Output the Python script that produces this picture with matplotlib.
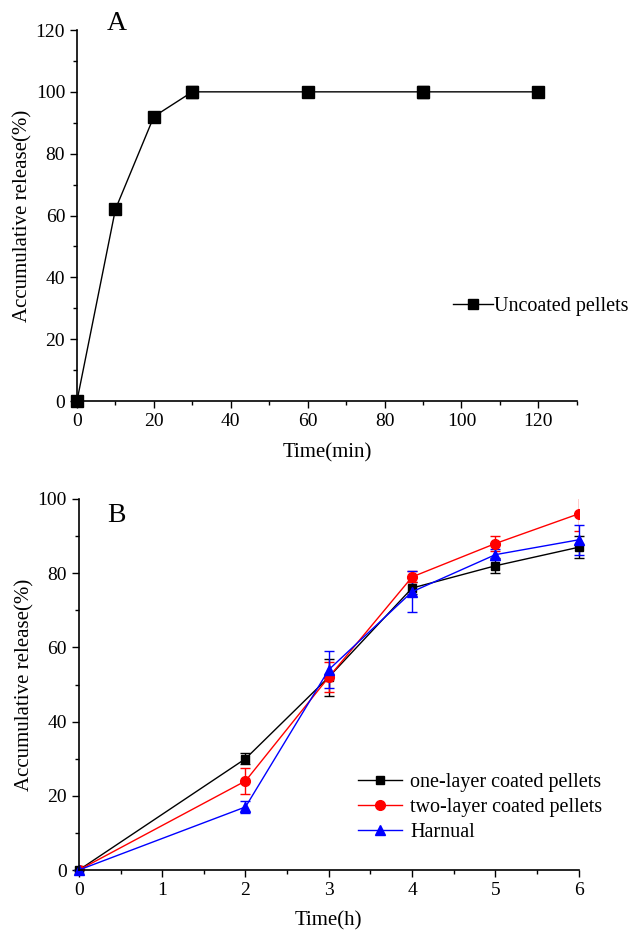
import matplotlib
matplotlib.use("Agg")
import matplotlib.pyplot as plt
from matplotlib.ticker import MultipleLocator
from matplotlib.lines import Line2D

plt.rcParams['font.family'] = ['Liberation Serif', 'DejaVu Serif']

# Panel A data
tA = [0, 10, 20, 30, 60, 90, 120]
relA = [0, 62, 92, 100, 100, 100, 100]
errA = [0, 0, 0, 2, 0, 2, 0]

# Panel B data
tB = [0, 2, 3, 4, 5, 6]
one_layer = [0, 30, 52, 76, 82, 87]
one_err = [0, 1.5, 5, 1.5, 2, 3]
two_layer = [0, 24, 52, 79, 88, 96]
two_err = [0, 3.5, 4, 1.5, 2, 4.5]
harnual = [0, 17, 54, 75, 85, 89]
harn_err = [0, 1.5, 5, 5.5, 1.5, 4]

fig = plt.figure(figsize=(6.36, 9.32), dpi=100)

def style(ax):
    for s in ['top', 'right']:
        ax.spines[s].set_visible(False)
    for s in ['left', 'bottom']:
        ax.spines[s].set_linewidth(1.2)
    ax.tick_params(which='major', direction='out', length=5, width=1, labelsize=14)
    ax.tick_params(which='minor', direction='out', length=3, width=1)

axA = fig.add_axes([0.121, 0.5697, 0.786, 0.3981])
axA.errorbar(tA, relA, yerr=errA, color='black', marker='s', markersize=8,
             linewidth=1, capsize=4, elinewidth=1, clip_on=False)
axA.set_xlim(0, 130)
axA.set_ylim(0, 120)
axA.xaxis.set_major_locator(MultipleLocator(20))
axA.xaxis.set_minor_locator(MultipleLocator(10))
axA.yaxis.set_major_locator(MultipleLocator(20))
axA.yaxis.set_minor_locator(MultipleLocator(10))
style(axA)
axA.set_xlabel('Time(min)', fontsize=15, labelpad=10)
axA.set_ylabel('Accumulative release(%)', fontsize=15, labelpad=2)
axA.text(0.08, 0.985, 'A', transform=axA.transAxes, fontsize=20, ha='center', va='bottom')
hA = [Line2D([], [], color='black', marker='s', markersize=7, linewidth=1)]
axA.legend(hA, ['Uncoated pellets'], loc='center left', bbox_to_anchor=(0.752, 0.256),
           frameon=False, fontsize=14.5, handlelength=2.0, handletextpad=0.05,
           borderpad=0, borderaxespad=0)

axB = fig.add_axes([0.124, 0.0665, 0.786, 0.3981])
axB.errorbar(tB, one_layer, yerr=one_err, color='black', marker='s', markersize=6,
             linewidth=1, capsize=3.5, elinewidth=1, clip_on=False)
axB.errorbar(tB, two_layer, yerr=two_err, color='red', marker='o', markersize=7,
             linewidth=1, capsize=3.5, elinewidth=1, clip_on=True)
axB.errorbar(tB, harnual, yerr=harn_err, color='blue', marker='^', markersize=7,
             linewidth=1, capsize=3.5, elinewidth=1, clip_on=False)
axB.set_xlim(0, 6)
axB.set_ylim(0, 100)
axB.xaxis.set_major_locator(MultipleLocator(1))
axB.xaxis.set_minor_locator(MultipleLocator(0.5))
axB.yaxis.set_major_locator(MultipleLocator(20))
axB.yaxis.set_minor_locator(MultipleLocator(10))
style(axB)
axB.set_xlabel('Time(h)', fontsize=15, labelpad=9)
axB.set_ylabel('Accumulative release(%)', fontsize=15, labelpad=2)
axB.text(0.075, 0.99, 'B', transform=axB.transAxes, fontsize=20, ha='center', va='top')
hB = [Line2D([], [], color='black', marker='s', markersize=6, linewidth=1),
      Line2D([], [], color='red', marker='o', markersize=7, linewidth=1),
      Line2D([], [], color='blue', marker='^', markersize=7, linewidth=1)]
axB.legend(hB, ['one-layer coated pellets', 'two-layer coated pellets', 'Harnual'],
           loc='lower left', bbox_to_anchor=(0.558, 0.075), frameon=False,
           fontsize=14.5, handlelength=2.2, handletextpad=0.4, labelspacing=0.3,
           borderpad=0, borderaxespad=0)

fig.savefig('out.png', dpi=100)
